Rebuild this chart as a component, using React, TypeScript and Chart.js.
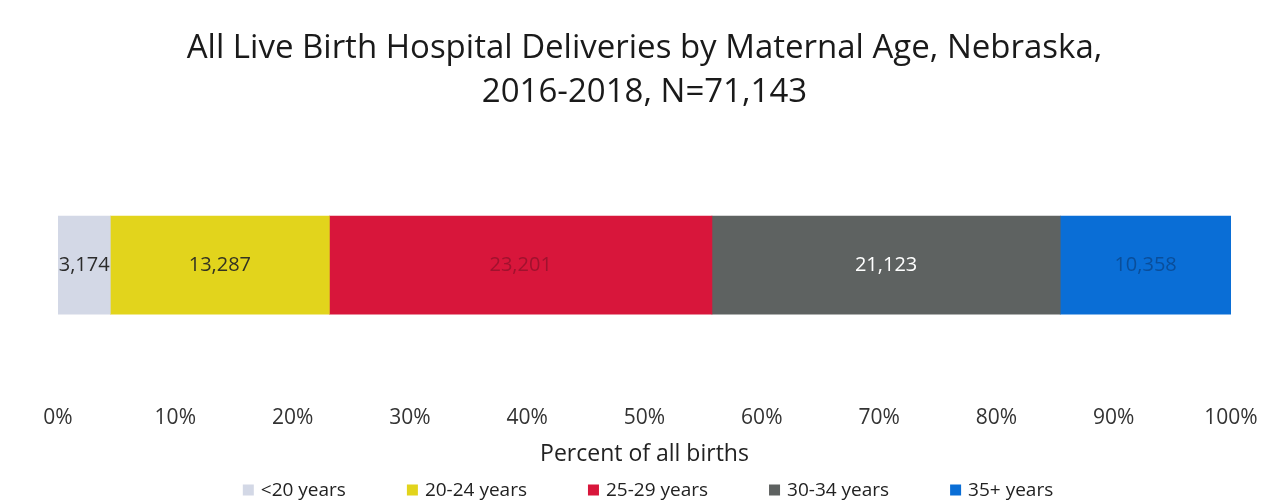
import React, { useEffect, useRef } from "react";
import { Chart, registerables } from "chart.js";

Chart.register(...registerables);

const categories = ["All births"];
const seriesLabels = ["<20 years", "20-24 years", "25-29 years", "30-34 years", "35+ years"];
const counts = [3174, 13287, 23201, 21123, 10358];
const totalBirths = 71143;
const tickValues = [0, 10, 20, 30, 40, 50, 60, 70, 80, 90, 100];
const titleLines = ["All Live Birth Hospital Deliveries by Maternal Age, Nebraska,", "2016-2018, N=71,143"];
const axisTitle = "Percent of all births";

const barColors = ["#D3D8E6", "#E2D41C", "#D8163B", "#5E6261", "#0A6ED6"];
const labelColors = ["#2b2b2b", "#333322", "#A0122E", "#FFFFFF", "#0A4E9A"];

const FONT = "'Open Sans', sans-serif";

const dataLabelPlugin = {
  id: "segmentLabels",
  afterDatasetsDraw(chart: any) {
    const ctx = chart.ctx;
    ctx.save();
    ctx.font = `20px ${FONT}`;
    ctx.textAlign = "center";
    ctx.textBaseline = "middle";
    chart.data.datasets.forEach((ds: any, i: number) => {
      const meta = chart.getDatasetMeta(i);
      meta.data.forEach((el: any, j: number) => {
        const p = el.getProps(["x", "y", "base"], true);
        const cx = (p.x + p.base) / 2;
        ctx.fillStyle = labelColors[i];
        ctx.fillText(ds.counts[j].toLocaleString("en-US"), cx, p.y);
      });
    });
    ctx.restore();
  },
};

const legendPlugin = {
  id: "customLegend",
  afterDraw(chart: any) {
    const ctx = chart.ctx;
    ctx.save();
    ctx.font = `19px ${FONT}`;
    ctx.textBaseline = "middle";
    ctx.textAlign = "left";
    const box = 11;
    const gap = 7;
    const spacing = 61;
    const widths = seriesLabels.map((t) => box + gap + ctx.measureText(t).width);
    const total = widths.reduce((a, b) => a + b, 0) + spacing * (widths.length - 1);
    const centerX = 648;
    const y = 490;
    let x = centerX - total / 2;
    seriesLabels.forEach((t, i) => {
      ctx.fillStyle = barColors[i];
      ctx.fillRect(x, y - box / 2, box, box);
      ctx.fillStyle = "#222222";
      ctx.fillText(t, x + box + gap, y + 1);
      x += widths[i] + spacing;
    });
    ctx.restore();
  },
};

export default function App() {
  const ref = useRef<HTMLCanvasElement | null>(null);
  useEffect(() => {
    document.body.style.margin = "0";
    document.body.style.background = "#ffffff";
    if (!ref.current) return;
    const chart = new Chart(ref.current, {
      type: "bar",
      data: {
        labels: categories,
        datasets: seriesLabels.map((label, i) => ({
          label,
          data: [(counts[i] / totalBirths) * 100],
          counts: [counts[i]],
          backgroundColor: barColors[i],
          borderWidth: 0,
          barThickness: 98,
        })) as any,
      },
      options: {
        indexAxis: "y",
        animation: false,
        responsive: false,
        maintainAspectRatio: false,
        layout: { padding: { left: 58, right: 42, top: 0, bottom: 36 } },
        scales: {
          x: {
            stacked: true,
            min: 0,
            max: 100,
            afterBuildTicks: (axis: any) => {
              axis.ticks = tickValues.map((v) => ({ value: v }));
            },
            ticks: {
              callback: (v: any) => `${v}%`,
              font: { family: FONT, size: 21 },
              color: "#333333",
              padding: 4,
              maxRotation: 0,
              autoSkip: false,
            },
            grid: { display: false, drawTicks: false },
            border: { display: false },
            title: {
              display: true,
              text: axisTitle,
              font: { family: FONT, size: 23 },
              color: "#222222",
              padding: { top: 6, bottom: 0 },
            },
          },
          y: {
            stacked: true,
            display: false,
          },
        },
        plugins: {
          title: {
            display: true,
            text: titleLines,
            font: { family: FONT, size: 33, weight: "normal", lineHeight: 1.32 },
            color: "#1a1a1a",
            padding: { top: 27, bottom: 15 },
          },
          legend: { display: false },
          tooltip: { enabled: false },
        },
      },
      plugins: [dataLabelPlugin, legendPlugin],
    });
    return () => chart.destroy();
  }, []);
  return (
    <div style={{ width: 1273, height: 504, position: "relative" }}>
      <canvas ref={ref} width={1273} height={504} style={{ width: 1273, height: 504, display: "block" }} />
    </div>
  );
}
